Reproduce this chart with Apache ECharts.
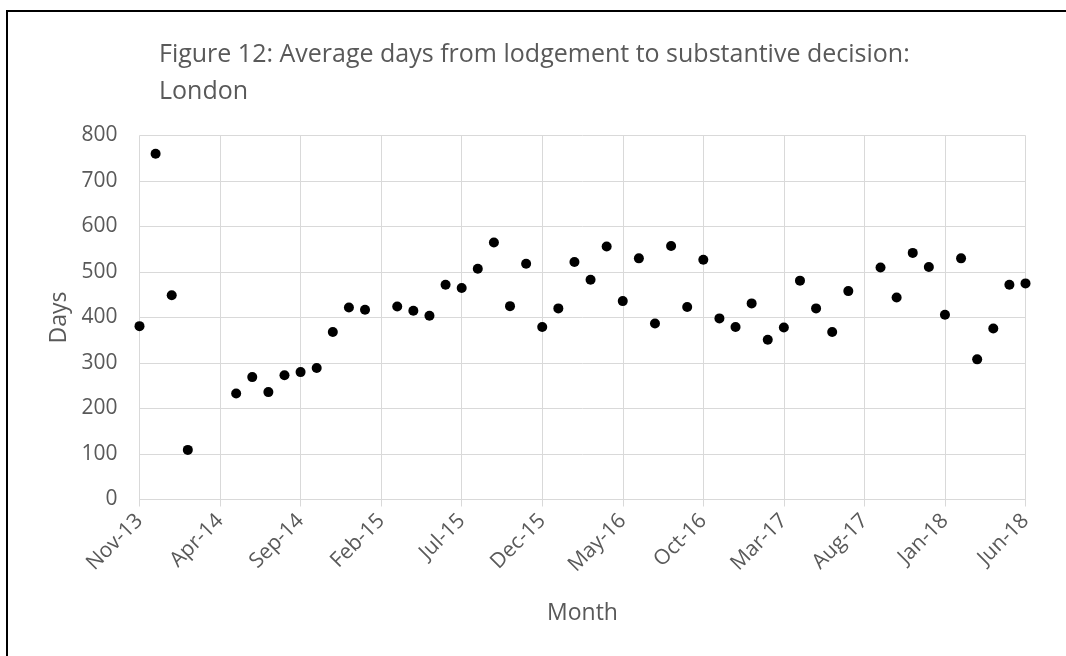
<!DOCTYPE html>
<html>
<head>
<meta charset="utf-8">
<script src="https://cdn.jsdelivr.net/npm/echarts@6/dist/echarts.min.js"></script>
<style>
  html, body { margin: 0; padding: 0; background: #fff; }
  #chart { width: 1066px; height: 656px; }
</style>
</head>
<body>
<div id="chart"></div>
<script>
// months Nov-13 .. Jun-18
const months = ['Nov-13', 'Dec-13', 'Jan-14', 'Feb-14', 'Mar-14', 'Apr-14', 'May-14', 'Jun-14', 'Jul-14', 'Aug-14',
  'Sep-14', 'Oct-14', 'Nov-14', 'Dec-14', 'Jan-15', 'Feb-15', 'Mar-15', 'Apr-15', 'May-15', 'Jun-15',
  'Jul-15', 'Aug-15', 'Sep-15', 'Oct-15', 'Nov-15', 'Dec-15', 'Jan-16', 'Feb-16', 'Mar-16', 'Apr-16',
  'May-16', 'Jun-16', 'Jul-16', 'Aug-16', 'Sep-16', 'Oct-16', 'Nov-16', 'Dec-16', 'Jan-17', 'Feb-17',
  'Mar-17', 'Apr-17', 'May-17', 'Jun-17', 'Jul-17', 'Aug-17', 'Sep-17', 'Oct-17', 'Nov-17', 'Dec-17',
  'Jan-18', 'Feb-18', 'Mar-18', 'Apr-18', 'May-18', 'Jun-18'];
const avgDays = [381, 760, 449, 109, null, null, 233, 269, 236, 273,
  280, 289, 368, 422, 417, null, 424, 415, 404, 472,
  465, 507, 565, 425, 518, 379, 420, 522, 483, 556,
  436, 530, 387, 557, 423, 527, 398, 379, 431, 351,
  378, 481, 420, 368, 458, null, 510, 444, 542, 511,
  406, 530, 308, 376, 472, 475];
const yTicks = [0, 800, 100]; // min, max, step

const textColor = '#595959';
const gridColor = '#d9d9d9';
const fontFamily = '"Open Sans", sans-serif';

const chart = echarts.init(document.getElementById('chart'));
const option = {
  animation: false,
  backgroundColor: '#fff',
  title: {
    text: 'Figure 12: Average days from lodgement to substantive decision:\nLondon',
    left: 154,
    top: 31,
    textStyle: {
      color: textColor,
      fontSize: 25,
      fontWeight: 'normal',
      fontFamily: fontFamily,
      lineHeight: 37
    }
  },
  graphic: [{
    type: 'rect',
    shape: { x: 7, y: 11, width: 1200, height: 800 },
    style: { fill: 'none', stroke: '#000', lineWidth: 2 },
    silent: true
  }],
  grid: {
    left: 139.5,
    right: 40.5,
    top: 135.5,
    bottom: 156.5
  },
  xAxis: {
    type: 'category',
    data: months,
    boundaryGap: false,
    name: 'Month',
    nameLocation: 'middle',
    nameGap: 102,
    nameTextStyle: { color: textColor, fontSize: 23, fontFamily: fontFamily },
    axisLine: { show: true, lineStyle: { color: gridColor, width: 1 } },
    axisTick: { show: true, interval: 4, length: 7, lineStyle: { color: gridColor } },
    axisLabel: {
      interval: 4,
      rotate: 45,
      margin: 18,
      color: textColor,
      fontSize: 21,
      fontFamily: fontFamily
    },
    splitLine: { show: true, interval: 4, lineStyle: { color: gridColor, width: 1 } }
  },
  yAxis: {
    type: 'value',
    min: yTicks[0],
    max: yTicks[1],
    interval: yTicks[2],
    name: 'Days',
    nameLocation: 'middle',
    nameGap: 66,
    nameTextStyle: { color: textColor, fontSize: 23, fontFamily: fontFamily },
    axisLine: { show: false },
    axisTick: { show: false },
    axisLabel: { color: textColor, fontSize: 21, fontFamily: fontFamily, margin: 22 },
    splitLine: { lineStyle: { color: gridColor, width: 1 } }
  },
  series: [{
    type: 'scatter',
    data: avgDays,
    symbol: 'circle',
    symbolSize: 10,
    itemStyle: { color: '#000', opacity: 1 }
  }]
};
chart.setOption(option);
</script>
</body>
</html>
